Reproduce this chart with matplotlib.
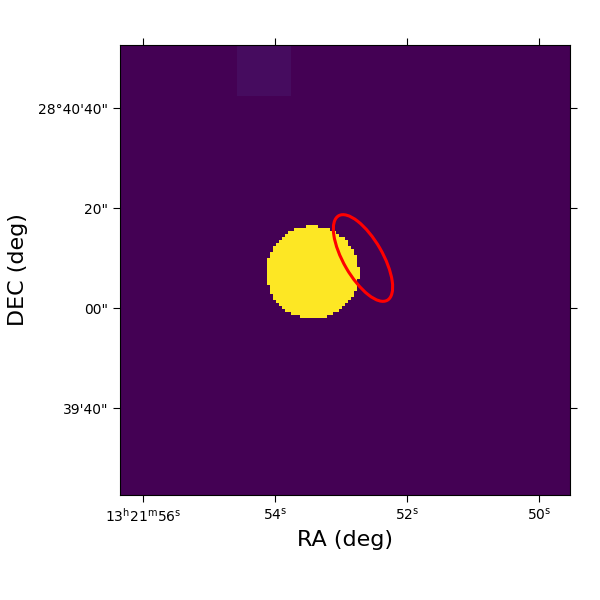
import numpy as np
import matplotlib.pyplot as plt
from matplotlib.patches import Ellipse

# image grid (pixels)
npix = 150
# bright source (pixel coords, origin lower)
src_x, src_y, src_r = 64.2, 74.2, 15.4
src_val = 1.0
# faint patch at top
patch_x = [39, 57]
patch_y = [133, 150]
patch_val = 0.035

# ellipse region
ell_x, ell_y = 81.0, 79.0
ell_w, ell_h, ell_ang = 32.5, 13.0, -60.0

# axis ticks
ra_sec = [56, 54, 52, 50]
ra_labels = [r'13$^{\mathrm{h}}$21$^{\mathrm{m}}$56$^{\mathrm{s}}$',
             r'54$^{\mathrm{s}}$', r'52$^{\mathrm{s}}$', r'50$^{\mathrm{s}}$']
dec_off = [40, 20, 0, -20]   # arcsec relative to 28d40m00s
dec_labels = ['28°40\'40"', '20"', '00"', '39\'40"']

# simple linear WCS
ra_x0, ra_scale = 7.67, 22.0      # pixel of 56s, pixels per second
dec_y0, dec_scale = 62.33, 1 / 0.6  # pixel of 40'00", pixels per arcsec

yy, xx = np.mgrid[0:npix, 0:npix] + 0.5
img = np.zeros((npix, npix))
img[patch_y[0]:patch_y[1], patch_x[0]:patch_x[1]] = patch_val
img[(xx - src_x) ** 2 + (yy - src_y) ** 2 <= src_r ** 2] = src_val

fig = plt.figure(figsize=(6, 6), dpi=100)
ax = fig.add_axes([0.2, 0.175, 0.75, 0.75])
ax.imshow(img, origin='lower', cmap='viridis', extent=[0, npix, 0, npix],
          interpolation='nearest', vmin=0, vmax=1)
ax.add_patch(Ellipse((ell_x, ell_y), ell_w, ell_h, angle=ell_ang,
                     fill=False, edgecolor='red', lw=2.2))

ax.set_xticks([ra_x0 + (56 - s) * ra_scale for s in ra_sec])
ax.set_xticklabels(ra_labels)
ax.set_yticks([dec_y0 + d * dec_scale for d in dec_off])
ax.set_yticklabels(dec_labels)
ax.tick_params(direction='out', length=5, top=True, right=True,
               labeltop=False, labelright=False, labelsize=10)
ax.set_xlim(0, npix)
ax.set_ylim(0, npix)
ax.set_xlabel('RA (deg)', fontsize=16)
ax.set_ylabel('DEC (deg)', fontsize=16, labelpad=7)

fig.savefig('out.png', dpi=100)
